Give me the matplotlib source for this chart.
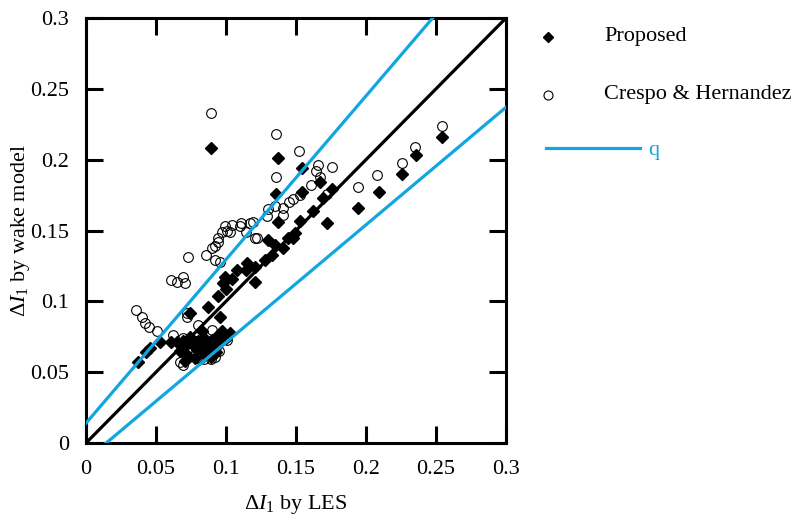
import matplotlib
matplotlib.use("Agg")
import matplotlib.pyplot as plt
import numpy as np

plt.rcParams['font.family'] = ['Liberation Serif', 'DejaVu Serif']
plt.rcParams['mathtext.fontset'] = 'custom'
plt.rcParams['mathtext.rm'] = 'Liberation Serif'
plt.rcParams['mathtext.it'] = 'Liberation Serif:italic'

# Proposed wake model vs LES
proposed_x = [0.089, 0.137, 0.154, 0.136, 0.154, 0.167, 0.172, 0.162, 0.153, 0.169,
              0.176, 0.194, 0.209, 0.226, 0.236, 0.254, 0.137,
              0.130, 0.148, 0.141, 0.135, 0.128, 0.121, 0.133, 0.144, 0.149, 0.114,
              0.121, 0.115, 0.108, 0.099, 0.104, 0.098, 0.100, 0.094, 0.087, 0.096,
              0.074, 0.103, 0.097,
              0.037, 0.043, 0.046, 0.053, 0.061, 0.065, 0.067, 0.070, 0.072, 0.074,
              0.076, 0.079, 0.080, 0.082, 0.084, 0.085, 0.087, 0.088, 0.090, 0.092,
              0.094, 0.096, 0.098, 0.100, 0.078, 0.071, 0.089, 0.093, 0.069, 0.083]
proposed_y = [0.208, 0.201, 0.194, 0.176, 0.177, 0.184, 0.155, 0.164, 0.157, 0.173,
              0.179, 0.166, 0.177, 0.190, 0.203, 0.216, 0.156,
              0.143, 0.145, 0.138, 0.140, 0.129, 0.124, 0.133, 0.145, 0.148, 0.122,
              0.114, 0.127, 0.122, 0.117, 0.116, 0.113, 0.109, 0.104, 0.096, 0.089,
              0.092, 0.078, 0.079,
              0.057, 0.064, 0.067, 0.071, 0.071, 0.071, 0.065, 0.068, 0.062, 0.075,
              0.070, 0.066, 0.072, 0.068, 0.074, 0.063, 0.070, 0.066, 0.073, 0.069,
              0.076, 0.071, 0.078, 0.074, 0.060, 0.058, 0.061, 0.064, 0.072, 0.079]

# Crespo & Hernandez model vs LES
crespo_x = [0.089, 0.136, 0.152, 0.136, 0.166, 0.164, 0.176, 0.167, 0.161, 0.153,
            0.148, 0.145, 0.141, 0.135, 0.130, 0.129, 0.141, 0.119, 0.121, 0.172,
            0.194, 0.208, 0.226, 0.235, 0.254,
            0.099, 0.097, 0.094, 0.094, 0.092, 0.090, 0.103, 0.101, 0.086, 0.092,
            0.096, 0.073, 0.061, 0.065, 0.069, 0.071, 0.110, 0.114, 0.117, 0.111,
            0.122, 0.104,
            0.036, 0.040, 0.042, 0.045, 0.051, 0.062, 0.072, 0.080, 0.090, 0.067,
            0.069, 0.079, 0.084, 0.089, 0.092, 0.101, 0.101, 0.069, 0.074, 0.086,
            0.082, 0.095, 0.093, 0.078, 0.072]
crespo_y = [0.233, 0.218, 0.206, 0.188, 0.196, 0.192, 0.195, 0.188, 0.182, 0.175,
            0.172, 0.170, 0.166, 0.167, 0.165, 0.160, 0.161, 0.156, 0.145, 0.176,
            0.181, 0.189, 0.198, 0.209, 0.224,
            0.153, 0.149, 0.145, 0.142, 0.139, 0.138, 0.149, 0.150, 0.133, 0.129,
            0.128, 0.131, 0.115, 0.114, 0.117, 0.113, 0.153, 0.149, 0.155, 0.155,
            0.145, 0.154,
            0.094, 0.089, 0.085, 0.082, 0.079, 0.076, 0.089, 0.083, 0.080, 0.057,
            0.055, 0.060, 0.059, 0.059, 0.061, 0.073, 0.075, 0.074, 0.068, 0.062,
            0.060, 0.065, 0.068, 0.072, 0.092]

# Reference lines: y = x and the q bounds (slope, intercept)
q_upper = (1.155, 0.014)
q_lower = (0.83, -0.012)

ticks = [0, 0.05, 0.1, 0.15, 0.2, 0.25, 0.3]
tick_labels = ['0', '0.05', '0.1', '0.15', '0.2', '0.25', '0.3']

blue = '#12A6E0'
fs = 16

fig = plt.figure(figsize=(7.97, 5.21), dpi=100)
ax = fig.add_axes([86 / 797, 78 / 521, 420 / 797, 425 / 521])

ax.plot(proposed_x, proposed_y, linestyle='none', marker='D', ms=6.5,
        mfc='black', mec='black', zorder=2)
ax.plot(crespo_x, crespo_y, linestyle='none', marker='o', ms=7,
        mfc='none', mec='black', mew=0.8, zorder=3)

xs = np.linspace(0, 0.3, 200)
ax.plot(xs, xs, color='black', lw=2.3, zorder=4)
ax.plot(xs, q_upper[0] * xs + q_upper[1], color=blue, lw=2.3, zorder=4)
ax.plot(xs, q_lower[0] * xs + q_lower[1], color=blue, lw=2.3, zorder=4)

ax.set_xlim(0, 0.3)
ax.set_ylim(0, 0.3)
ax.set_xticks(ticks)
ax.set_xticklabels(tick_labels)
ax.set_yticks(ticks)
ax.set_yticklabels(tick_labels)
ax.tick_params(direction='in', length=12, width=2.2, top=True, right=True,
               labelsize=fs)
ax.tick_params(axis='x', pad=12)
ax.tick_params(axis='y', pad=12)
for s in ax.spines.values():
    s.set_linewidth(2.2)

ax.set_xlabel(r'$\mathit{ΔI}_{\mathit{1}}$ by LES', fontsize=fs, labelpad=10)
ax.set_ylabel(r'$\mathit{ΔI}_{\mathit{1}}$ by wake model', fontsize=fs)
ax.yaxis.set_label_coords(-0.128, 0.5)

# Legend drawn in figure pixel space
lg = fig.add_axes([0, 0, 1, 1], zorder=-1)
lg.set_xlim(0, 797)
lg.set_ylim(521, 0)
lg.axis('off')
lg.plot([548], [37], marker='D', ms=5.5, mfc='black', mec='black', linestyle='none')
lg.text(604, 37, 'Proposed', fontsize=fs, va='center', ha='left')
lg.plot([548], [95], marker='o', ms=6.5, mfc='none', mec='black', mew=0.8, linestyle='none')
lg.text(604, 95, 'Crespo & Hernandez', fontsize=fs, va='center', ha='left')
lg.plot([546, 640], [148, 148], color=blue, lw=2.3)
lg.text(648, 151, 'q', fontsize=fs, va='center', ha='left', color=blue)

fig.savefig('out.png', dpi=100)
